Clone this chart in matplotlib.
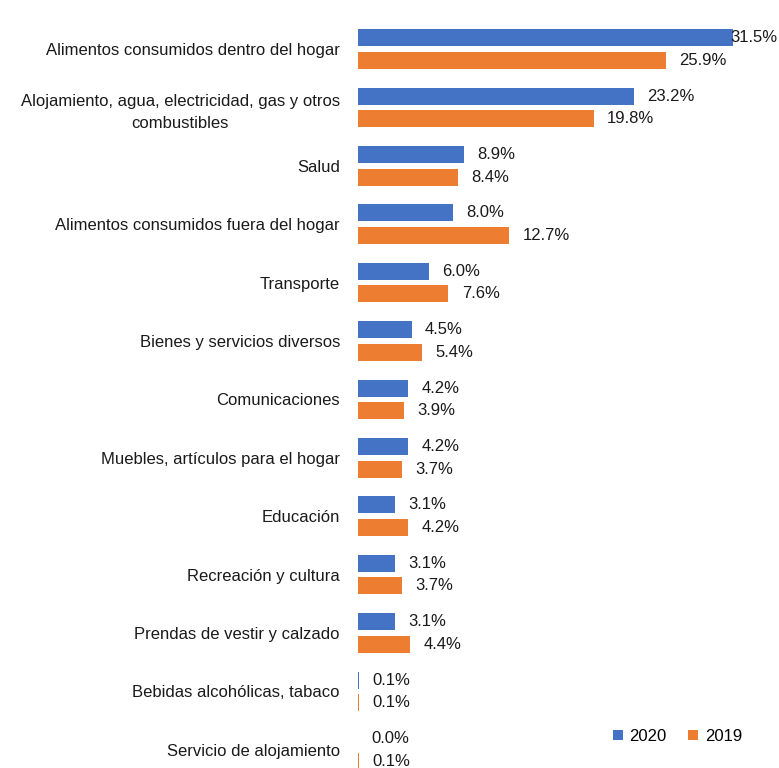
import matplotlib
matplotlib.use("Agg")
import matplotlib.pyplot as plt
import numpy as np

categories = [
    "Alimentos consumidos dentro del hogar",
    "Alojamiento, agua, electricidad, gas y otros\ncombustibles",
    "Salud",
    "Alimentos consumidos fuera del hogar",
    "Transporte",
    "Bienes y servicios diversos",
    "Comunicaciones",
    "Muebles, artículos para el hogar",
    "Educación",
    "Recreación y cultura",
    "Prendas de vestir y calzado",
    "Bebidas alcohólicas, tabaco",
    "Servicio de alojamiento",
]
values_2020 = [31.5, 23.2, 8.9, 8.0, 6.0, 4.5, 4.2, 4.2, 3.1, 3.1, 3.1, 0.1, 0.0]
values_2019 = [25.9, 19.8, 8.4, 12.7, 7.6, 5.4, 3.9, 3.7, 4.2, 3.7, 4.4, 0.1, 0.1]
series_names = ["2020", "2019"]

plt.rcParams["font.family"] = ["Liberation Sans", "DejaVu Sans"]

W, H = 779, 768
fig = plt.figure(figsize=(W / 100, H / 100), dpi=100)
left_px = 358
ax = fig.add_axes([left_px / W, 0, 1 - left_px / W, 1])

px_per_unit = 11.9
xmax = (W - left_px) / px_per_unit
ax.set_xlim(0, xmax)

spacing = 58.4
c0 = 49
ax.set_ylim((H - c0) / spacing, -c0 / spacing)

y = np.arange(len(categories))
off = 0.193
h = 0.29
blue = "#4472C4"
orange = "#ED7D31"
b1 = ax.barh(y - off, values_2020, height=h, color=blue, label=series_names[0])
b2 = ax.barh(y + off, values_2019, height=h, color=orange, label=series_names[1])

fs = 12
tc = "#1a1a1a"
for bars, vals in ((b1, values_2020), (b2, values_2019)):
    for rect, v in zip(bars, vals):
        txt = f"{v:.1f}%"
        end = rect.get_width()
        yc = rect.get_y() + rect.get_height() / 2
        if end * px_per_unit + 13 + 44 > (W - left_px):
            ax.annotate(txt, xy=(xmax, yc), xytext=(-1, 0), textcoords="offset points",
                        va="center", ha="right", fontsize=fs, color=tc,
                        annotation_clip=False)
        else:
            ax.annotate(txt, xy=(end, yc), xytext=(9.5, 0), textcoords="offset points",
                        va="center", ha="left", fontsize=fs, color=tc,
                        annotation_clip=False)

ax.set_yticks(y)
ax.set_yticklabels(categories, fontsize=fs, color=tc, multialignment="center",
                   linespacing=1.55)
ax.tick_params(axis="y", length=0, pad=13)
ax.set_xticks([])
for s in ax.spines.values():
    s.set_visible(False)

leg = ax.legend(loc="lower right", bbox_to_anchor=(0.948, 0.012), ncol=2, frameon=False,
                fontsize=fs, handlelength=0.6, handleheight=0.6, handletextpad=0.4,
                columnspacing=1.3)

fig.savefig("out.png", dpi=100)
